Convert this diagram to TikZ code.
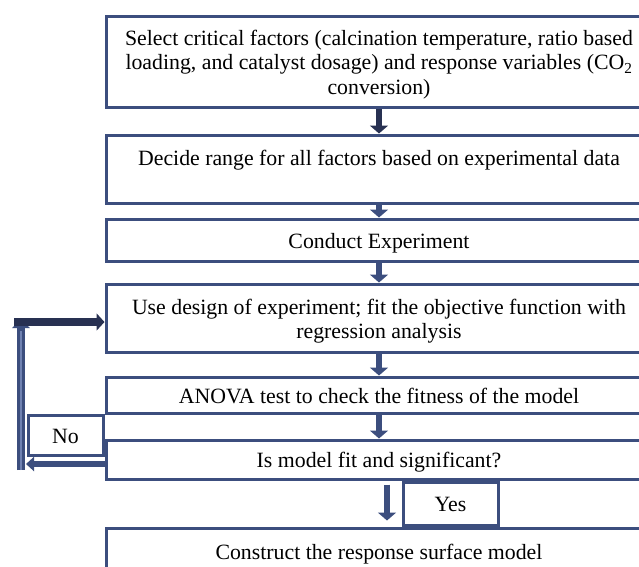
\documentclass[tikz,border=0pt]{standalone}
\usepackage{fontspec}
\setmainfont{Liberation Serif}
\usetikzlibrary{arrows.meta,calc}
\definecolor{boxblue}{RGB}{60,78,126}
\definecolor{navy}{RGB}{40,49,82}
\definecolor{lightline}{RGB}{112,130,178}
\newcommand\boxtext[1]{\raisebox{-3.5pt}[\height][\depth]{\begin{tabular}{@{}c@{}}#1\end{tabular}}}
\begin{document}
\begin{tikzpicture}[x=1pt,y=-1pt,
  box/.style={draw=boxblue,line width=3pt,inner sep=0pt,align=center,
    font=\fontsize{21.8}{24.5}\selectfont},
  flow/.style={boxblue,line width=6pt,-{Triangle[width=18pt,length=8pt]}}]
\useasboundingbox (0,0) rectangle (639,566);
\clip (0,0) rectangle (639,566);
\fill[white] (0,0) rectangle (639,566);
% process boxes
\node[box,minimum width=546pt,minimum height=91pt] (b1) at (379,61.5)
  {\boxtext{Select critical factors (calcination temperature, ratio based\\
   loading, and catalyst dosage) and response variables (CO\textsubscript{2}\\
   conversion)}};
\node[box,minimum width=546pt,minimum height=68pt] (b2) at (379,169)
  {\boxtext{Decide range for all factors based on experimental data\\ \mbox{}}};
\node[box,minimum width=546pt,minimum height=42pt] (b3) at (379,240)
  {\boxtext{Conduct Experiment}};
\node[box,minimum width=546pt,minimum height=68pt] (b4) at (379,318)
  {\boxtext{Use design of experiment; fit the objective function with\\ regression analysis}};
\node[box,minimum width=546pt,minimum height=36pt] (b5) at (379,395)
  {\boxtext{ANOVA test to check the fitness of the model}};
\node[box,minimum width=546pt,minimum height=39pt] (b6) at (379,459.5)
  {\boxtext{Is model fit and significant?}};
\node[box,minimum width=546pt,minimum height=46pt] (b7) at (379,551)
  {\boxtext{Construct the response surface model}};
% labels
\node[box,minimum width=75pt,minimum height=40pt] (no) at (65.5,435) {\boxtext{No}};
\node[box,minimum width=95pt,minimum height=43pt] (yes) at (450.5,503.5) {\boxtext{Yes}};
% main flow
\draw[flow,navy] (b1.south) -- (b2.north);
\draw[flow] (b2.south) -- (b3.north);
\draw[flow] (b3.south) -- (b4.north);
\draw[flow] (b4.south) -- (b5.north);
\draw[flow] (b5.south) -- (b6.north);
\draw[flow] ($(b6.south)+(8,4)$) -- ($(b7.north)+(8,-6)$);
% loop back
\coordinate (nl) at (26,464);
\coordinate (vb) at (21,470);
\coordinate (vt) at (21,319);
\coordinate (hl) at (14,322);
\draw[boxblue,line width=6pt,-{Triangle[width=14pt,length=8pt]}]
  ($(b6.west)+(0,4.5)$) -- (nl);
\draw[boxblue,line width=8pt,-{Triangle[width=17pt,length=9pt]}] (vb) -- (vt);
\draw[lightline,line width=2pt] (vb) -- ($(vt)+(0,12)$);
\draw[navy,line width=8pt,-{Triangle[width=17pt,length=8pt]}] (hl) -- (b4.west |- hl);
\end{tikzpicture}
\end{document}
